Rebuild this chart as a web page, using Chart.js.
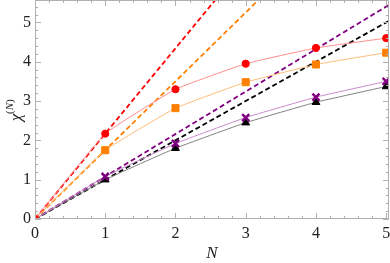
<!DOCTYPE html>
<html>
<head>
<meta charset="utf-8">
<script src="https://cdn.jsdelivr.net/npm/chart.js@4.4.1/dist/chart.umd.min.js"></script>
<style>
html, body { margin: 0; padding: 0; background: #fff; }
#wrap { width: 390px; height: 263px; position: relative; }
</style>
</head>
<body>
<div id="wrap"><canvas id="myChart"></canvas></div>
<script>
// data
var nValues = [0, 1, 2, 3, 4, 5];
var redVals = [0, 2.17, 3.3, 3.95, 4.35, 4.6];
var orangeVals = [0, 1.75, 2.82, 3.48, 3.93, 4.23];
var purpleVals = [0, 1.08, 1.92, 2.58, 3.1, 3.5];
var blackVals = [0, 1.0, 1.8, 2.45, 2.97, 3.37];

// dashed guide lines (two end points each)
var dashN = [0, 5.1];
var redDash = [0, 11.07];
var orangeDash = [0, 8.93];
var purpleDash = [0, 5.51];
var blackDash = [0, 5.1];

var xTicks = [0, 1, 2, 3, 4, 5];
var yTicks = [0, 1, 2, 3, 4, 5];

function pts(xs, ys) {
    return xs.map(function (x, i) { return { x: x, y: ys[i] }; });
}

function solid(vals, lineCol, ptCol, style, r, bw) {
    return {
        data: pts(nValues, vals),
        borderColor: lineCol,
        borderWidth: 1,
        tension: 0.1,
        pointStyle: style,
        pointRadius: r,
        pointBackgroundColor: ptCol,
        pointBorderColor: ptCol,
        pointBorderWidth: bw,
        order: 1
    };
}

function dashed(vals, col) {
    return {
        data: pts(dashN, vals),
        borderColor: col,
        borderWidth: 1.8,
        borderDash: [5, 3],
        pointRadius: 0,
        order: 2
    };
}

var serif = 'Liberation Serif, Times New Roman, serif';

// frame, inward ticks and axis titles, Mathematica style
var framePlugin = {
    id: 'frame',
    afterDraw: function (chart) {
        var ctx = chart.ctx;
        var a = chart.chartArea;
        var xs = chart.scales.x, ys = chart.scales.y;
        ctx.save();
        ctx.strokeStyle = '#b0b0b0';
        ctx.lineWidth = 1;
        ctx.beginPath();
        ctx.rect(a.left + 0.5, a.top + 0.5, a.right - a.left - 1, a.bottom - a.top - 1);
        ctx.stroke();
        ctx.beginPath();
        for (var i = 0; i <= 25; i++) {
            var v = i / 5;
            var len = (i % 5 === 0) ? 6 : 3;
            var px = Math.round(xs.getPixelForValue(v)) + 0.5;
            ctx.moveTo(px, a.bottom); ctx.lineTo(px, a.bottom - len);
            ctx.moveTo(px, a.top); ctx.lineTo(px, a.top + len);
        }
        for (var j = 0; j <= 27; j++) {
            var w = j / 5;
            if (w > ys.max) break;
            var l2 = (j % 5 === 0) ? 6 : 3;
            var py = Math.round(ys.getPixelForValue(w)) + 0.5;
            ctx.moveTo(a.left, py); ctx.lineTo(a.left + l2, py);
            ctx.moveTo(a.right, py); ctx.lineTo(a.right - l2, py);
        }
        ctx.stroke();

        ctx.fillStyle = '#222';
        ctx.font = 'italic 17px ' + serif;
        ctx.textAlign = 'center';
        ctx.textBaseline = 'alphabetic';
        ctx.fillText('N', (a.left + a.right) / 2, 258);

        ctx.translate(17, 110);
        ctx.rotate(-Math.PI / 2);
        ctx.textAlign = 'left';
        ctx.font = 'italic 17px ' + serif;
        var chiW = ctx.measureText('χ').width;
        ctx.font = '11px ' + serif;
        var supW = ctx.measureText('(N)').width;
        var x0 = -(chiW + supW) / 2;
        ctx.font = 'italic 17px ' + serif;
        ctx.fillText('χ', x0, 4);
        ctx.font = '11px ' + serif;
        ctx.fillText('(', x0 + chiW, -4);
        var pw = ctx.measureText('(').width;
        ctx.font = 'italic 11px ' + serif;
        ctx.fillText('N', x0 + chiW + pw, -4);
        var nw = ctx.measureText('N').width;
        ctx.font = '11px ' + serif;
        ctx.fillText(')', x0 + chiW + pw + nw, -4);
        ctx.restore();
    }
};

new Chart(document.getElementById('myChart').getContext('2d'), {
    type: 'line',
    data: {
        datasets: [
            solid(redVals, '#ff8c8c', '#ff0000', 'circle', 3.6, 1),
            solid(orangeVals, '#ffbb77', '#ff8000', 'rect', 5, 1),
            solid(purpleVals, '#c98ac9', '#800080', 'crossRot', 5, 2.5),
            solid(blackVals, '#808080', '#000000', 'triangle', 4.5, 1),
            dashed(redDash, '#ff0000'),
            dashed(orangeDash, '#ff8000'),
            dashed(purpleDash, '#800080'),
            dashed(blackDash, '#000000')
        ]
    },
    options: {
        responsive: true,
        maintainAspectRatio: false,
        animation: false,
        layout: { autoPadding: false, padding: { top: 0, right: 1, left: 0, bottom: 0 } },
        plugins: { legend: { display: false }, tooltip: { enabled: false } },
        scales: {
            x: {
                type: 'linear',
                min: 0,
                max: 5.04,
                grid: { display: false, drawTicks: false },
                border: { display: false },
                afterBuildTicks: function (s) { s.ticks = xTicks.map(function (v) { return { value: v }; }); },
                afterFit: function (s) { s.height = 44; s.paddingLeft = 0; s.paddingRight = 0; },
                ticks: { padding: 5, color: '#222', maxRotation: 0, font: { family: serif, size: 16 } }
            },
            y: {
                type: 'linear',
                min: 0,
                max: 5.57,
                grid: { display: false, drawTicks: false },
                border: { display: false },
                afterBuildTicks: function (s) { s.ticks = yTicks.map(function (v) { return { value: v }; }); },
                afterFit: function (s) { s.width = 35; s.paddingTop = 0; s.paddingBottom = 0; },
                ticks: { padding: 4, color: '#222', font: { family: serif, size: 16 } }
            }
        }
    },
    plugins: [framePlugin]
});
</script>
</body>
</html>
